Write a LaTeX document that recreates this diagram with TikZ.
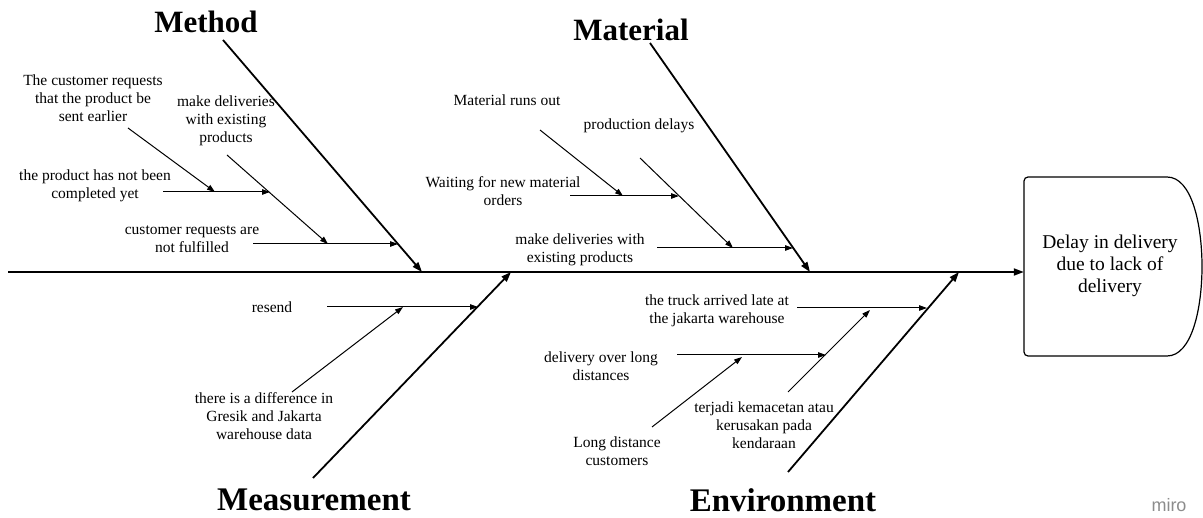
\documentclass[tikz,border=0pt]{standalone}
\usepackage{fontspec}
\setmainfont{Liberation Serif}
\newfontfamily\mirofont{Liberation Sans}
\usetikzlibrary{arrows.meta}
\begin{document}
\begin{tikzpicture}[x=1pt,y=-1pt,
  bone/.style={line width=1.8pt,-{Triangle[length=10pt,width=7pt]}},
  sub/.style={line width=1pt,-{Triangle[length=8pt,width=5.5pt]}},
  lbl/.style={font=\fontsize{15.5}{18}\selectfont,align=center,inner sep=0pt},
  cattop/.style={font=\fontsize{31}{36}\selectfont\bfseries,inner sep=0pt},
  catbot/.style={font=\fontsize{33}{38}\selectfont\bfseries,inner sep=0pt}]
\useasboundingbox (0,0) rectangle (1203,518);

% effect box
\node[minimum width=178pt,minimum height=179pt,inner sep=0pt] (effbox) at (1113,266.5) {};
\draw[line width=1.2pt] (1167,177) -- (1028,177)
  .. controls (1025.8,177) and (1024,178.8) .. (1024,181) -- (1024,352)
  .. controls (1024,354.2) and (1025.8,356) .. (1028,356) -- (1167,356)
  .. controls (1192,356) and (1202,308) .. (1202,266.5)
  .. controls (1202,225) and (1192,177) .. (1167,177) -- cycle;
\node[font=\fontsize{19.5}{22}\selectfont,align=center,inner sep=0pt] (effect) at (1110,266) {Delay in delivery\\due to lack of\\delivery};

% spine
\coordinate (tail) at (8,272);
\draw[bone] (tail) -- (tail -| effbox.west);

% Method
\node[cattop] (method) at (206,22) {Method};
\coordinate (m0) at (223,40); \coordinate (m1) at (422,272);
\draw[bone] (m0) -- (m1);
\node[lbl] (mA) at (93,98) {The customer requests\\that the product be\\sent earlier};
\node[lbl] (mB) at (226,121) {make deliveries\\with existing\\products};
\node[lbl] (mC) at (95,186) {the product has not been\\completed yet};
\node[lbl] (mD) at (192,239) {customer requests are\\not fulfilled};
\coordinate (mD0) at (253,244); \coordinate (mD1) at (398,244);
\coordinate (mB0) at (227,155); \coordinate (mB1) at (328,244);
\coordinate (mC0) at (163,192); \coordinate (mC1) at (270,192);
\coordinate (mA0) at (128,128); \coordinate (mA1) at (215,192);
\draw[sub] (mD0) -- (mD1);
\draw[sub] (mB0) -- (mB1);
\draw[sub] (mC0) -- (mC1);
\draw[sub] (mA0) -- (mA1);

% Material
\node[cattop] (material) at (631,30) {Material};
\coordinate (a0) at (650,43); \coordinate (a1) at (810,272);
\draw[bone] (a0) -- (a1);
\node[lbl] (aA) at (507,100) {Material runs out};
\node[lbl] (aB) at (639,126) {production delays};
\node[lbl] (aC) at (503,191) {Waiting for new material\\orders};
\node[lbl] (aD) at (580,250) {make deliveries with\\existing products};
\coordinate (aA0) at (540,130); \coordinate (aA1) at (623,196);
\coordinate (aB0) at (640,158); \coordinate (aB1) at (733,248);
\coordinate (aC0) at (570,196); \coordinate (aC1) at (679,196);
\coordinate (aD0) at (657,248); \coordinate (aD1) at (793,248);
\draw[sub] (aA0) -- (aA1);
\draw[sub] (aB0) -- (aB1);
\draw[sub] (aC0) -- (aC1);
\draw[sub] (aD0) -- (aD1);

% Measurement
\node[catbot] (measurement) at (314,500) {Measurement};
\coordinate (e0) at (313,478); \coordinate (e1) at (511,272);
\draw[bone] (e0) -- (e1);
\node[lbl] (eA) at (272,307) {resend};
\node[lbl] (eB) at (264,416) {there is a difference in\\Gresik and Jakarta\\warehouse data};
\coordinate (eA0) at (327,307); \coordinate (eA1) at (478,307);
\coordinate (eB0) at (292,392); \coordinate (eB1) at (403,307);
\draw[sub] (eA0) -- (eA1);
\draw[sub] (eB0) -- (eB1);

% Environment
\node[catbot] (environment) at (783,500) {Environment};
\coordinate (n0) at (788,472); \coordinate (n1) at (959,272);
\draw[bone] (n0) -- (n1);
\node[lbl] (nA) at (717,311) {the truck arrived late at\\the jakarta warehouse};
\node[lbl] (nB) at (601,366) {delivery over long\\distances};
\node[lbl] (nC) at (764,425) {terjadi kemacetan atau\\kerusakan pada\\kendaraan};
\node[lbl] (nD) at (617,451) {Long distance\\customers};
\coordinate (nA0) at (797,308); \coordinate (nA1) at (927,308);
\coordinate (nB0) at (677,355); \coordinate (nB1) at (826,355);
\coordinate (nC0) at (788,392); \coordinate (nC1) at (870,310);
\coordinate (nD0) at (652,427); \coordinate (nD1) at (742,357);
\draw[sub] (nA0) -- (nA1);
\draw[sub] (nB0) -- (nB1);
\draw[sub] (nC0) -- (nC1);
\draw[sub] (nD0) -- (nD1);

% watermark
\node[font=\mirofont\fontsize{18}{18}\selectfont,text=black!45,inner sep=0pt] (miro) at (1169,505) {miro};
\end{tikzpicture}
\end{document}
